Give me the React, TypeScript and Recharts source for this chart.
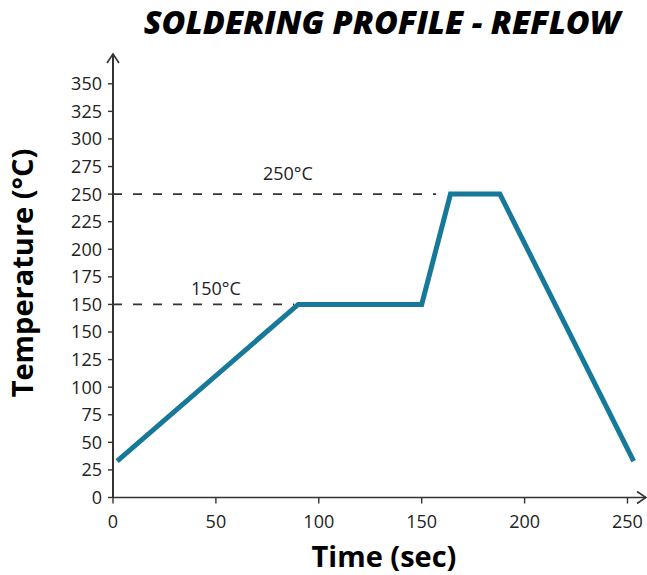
import React from 'react';
import { LineChart, Line, XAxis, YAxis, ReferenceLine, ReferenceDot } from 'recharts';

// Reflow soldering profile
const timeSec = [2, 90, 150, 164, 188, 253];
const tempC = [33, 150, 150, 250, 250, 33];

// Axis ticks (the source axis repeats "150", each label sits in an evenly spaced slot)
const xTicks = [0, 50, 100, 150, 200, 250];
const yTickLabels = ['0', '25', '50', '75', '100', '125', '150', '150', '175', '200', '225', '250', '275', '300', '325', '350'];

// Dashed guide levels and their annotations
const refLevels = [150, 250];
const refEndTimes = [88, 157];
const refLabelTimes = [50, 85];
const refLabels = ['150°C', '250°C'];
const refLabelOffsets = [9, 14];

const SLOT = 25;
// map a temperature onto the slot scale of the axis (labels from the repeated 150 upward are one slot higher)
const toAxis = (v: number) => (v >= 150 ? v + SLOT : v);

const data = timeSec.map((t, i) => ({ t, y: toAxis(tempC[i]) }));
const yTickPos = yTickLabels.map((_, i) => i * SLOT);

const FONT = "'Open Sans', 'DejaVu Sans', sans-serif";
const AXIS = '#333333';

export default function App() {
  return (
    <div style={{ position: 'absolute', left: 0, top: 0, width: 647, height: 575, background: '#fff' }}>
      <svg width={0} height={0} style={{ position: 'absolute' }}>
        <defs>
          <marker
            id="axisArrow"
            markerUnits="userSpaceOnUse"
            markerWidth={16}
            markerHeight={16}
            viewBox="0 0 16 16"
            refX={13}
            refY={8}
            orient="auto-start-reverse"
          >
            <path d="M 4 2 L 13 8 L 4 14" fill="none" stroke={AXIS} strokeWidth={1.6} />
          </marker>
        </defs>
      </svg>
      <LineChart width={647} height={575} data={data} margin={{ top: 54, right: 1, bottom: 0, left: 0 }}>
        <XAxis
          type="number"
          dataKey="t"
          domain={[0, 259]}
          ticks={xTicks}
          height={77.5}
          tickSize={6}
          tickMargin={12}
          axisLine={{ stroke: AXIS, strokeWidth: 1.6, markerEnd: 'url(#axisArrow)' }}
          tickLine={{ stroke: AXIS, strokeWidth: 1.4 }}
          tick={{ fontFamily: FONT, fontSize: 18, fill: '#222' }}
        />
        <YAxis
          type="number"
          domain={[0, 402]}
          ticks={yTickPos}
          interval={0}
          width={113}
          tickSize={5}
          tickMargin={6}
          tickFormatter={(v: number) => yTickLabels[Math.round(v / SLOT)]}
          axisLine={{ stroke: AXIS, strokeWidth: 2, markerStart: 'url(#axisArrow)' }}
          tickLine={{ stroke: AXIS, strokeWidth: 1.4 }}
          tick={{ fontFamily: FONT, fontSize: 18, fill: '#222' }}
        />
        {refLevels.map((lvl, i) => (
          <ReferenceLine
            key={`rl${i}`}
            segment={[
              { x: 0, y: toAxis(lvl) },
              { x: refEndTimes[i], y: toAxis(lvl) },
            ]}
            stroke={AXIS}
            strokeWidth={1.8}
            strokeDasharray="9 11"
          />
        ))}
        {refLevels.map((lvl, i) => (
          <ReferenceDot
            key={`rd${i}`}
            x={refLabelTimes[i]}
            y={toAxis(lvl)}
            r={0}
            fill="none"
            stroke="none"
            label={{
              value: refLabels[i],
              position: 'top',
              offset: refLabelOffsets[i],
              fontFamily: FONT,
              fontSize: 18,
              fill: '#222',
            }}
          />
        ))}
        <Line
          type="linear"
          dataKey="y"
          stroke="#17799a"
          strokeWidth={5}
          strokeLinejoin="miter"
          strokeLinecap="butt"
          dot={false}
          activeDot={false}
          isAnimationActive={false}
        />
      </LineChart>
      <svg width={647} height={575} style={{ position: 'absolute', left: 0, top: 0, pointerEvents: 'none' }}>
        <text x={382} y={34} textAnchor="middle" fontFamily={FONT} fontSize={32.5} fontWeight={800} fontStyle="italic" fill="#000">
          SOLDERING PROFILE - REFLOW
        </text>
        <text x={384} y={567} textAnchor="middle" fontFamily={FONT} fontSize={29} fontWeight={700} fill="#000">
          Time (sec)
        </text>
        <text transform="translate(33,273) rotate(-90)" textAnchor="middle" fontFamily={FONT} fontSize={29} fontWeight={700} fill="#000">
          Temperature (°C)
        </text>
      </svg>
    </div>
  );
}
